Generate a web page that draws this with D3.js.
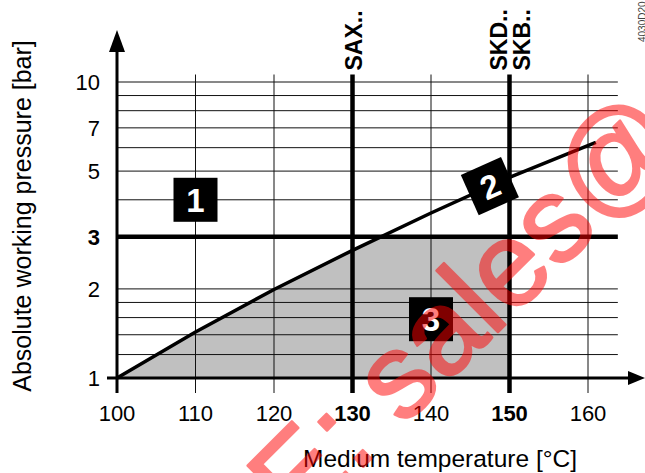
<!DOCTYPE html>
<html>
<head>
<meta charset="utf-8">
<script src="https://cdn.jsdelivr.net/npm/d3@7"></script>
<style>
  body { margin: 0; background: #fff; }
  svg { display: block; font-family: "Liberation Sans", Arial, sans-serif; }
</style>
</head>
<body>
<svg id="chart" width="645" height="473"></svg>
<script>
// saturation curve (temperature in °C, absolute pressure in bar)
var curveTemps = [100, 110, 120, 130, 140, 150, 161];
var curvePress = [1.0, 1.43, 1.99, 2.70, 3.61, 4.76, 6.25];

var xTicks = [100, 110, 120, 130, 140, 150, 160];
var xBold = [130, 150];
var yLabels = [1, 2, 3, 5, 7, 10];
var yGrid = [1.2, 1.4, 1.6, 1.8, 2, 4, 5, 6, 7, 8, 9, 10];
var limitPress = 3;      // thick horizontal line
var limitTemps = [130, 150];
var limitNames = [["SAX.."], ["SKD..", "SKB.."]];

// numbered boxes: [temp, pressure, label, rotation]
var boxes = [[110, 4, "1", 0], [147.5, 4.45, "2", -24], [140, 1.58, "3", 0]];

var svg = d3.select("#chart");
var x = d3.scaleLinear().domain([100, 160]).range([117, 588]);
var y = d3.scaleLog().domain([1, 10]).range([378, 82]);
var xEnd = 163.8, yTop = 10.6;

var curve = curveTemps.map(function (t, i) { return [t, curvePress[i]]; });

// grey area (under curve, below 3 bar, up to 150 °C)
svg.append("clipPath").attr("id", "area-clip")
  .append("rect")
  .attr("x", x(100)).attr("y", y(limitPress))
  .attr("width", x(150) - x(100)).attr("height", y(1) - y(limitPress));

svg.append("path")
  .datum(curve)
  .attr("clip-path", "url(#area-clip)")
  .attr("fill", "#c0c0c0")
  .attr("d", d3.area().x(function (d) { return x(d[0]); })
    .y0(y(1)).y1(function (d) { return y(d[1]); }));

// horizontal grid
svg.selectAll(".hgrid").data(yGrid).enter().append("line")
  .attr("x1", x(100)).attr("x2", x(xEnd))
  .attr("y1", function (d) { return y(d); }).attr("y2", function (d) { return y(d); })
  .attr("stroke", "#111").attr("stroke-width", 1);

// vertical grid + ticks
svg.selectAll(".vgrid").data(xTicks.filter(function (d) { return d > 100 && xBold.indexOf(d) < 0; }))
  .enter().append("line")
  .attr("x1", function (d) { return x(d); }).attr("x2", function (d) { return x(d); })
  .attr("y1", y(yTop)).attr("y2", y(1) + 15)
  .attr("stroke", "#111").attr("stroke-width", 1);

// thick limits
svg.append("line")
  .attr("x1", x(100)).attr("x2", x(xEnd))
  .attr("y1", y(limitPress)).attr("y2", y(limitPress))
  .attr("stroke", "#000").attr("stroke-width", 4.5);

svg.selectAll(".vlim").data(limitTemps).enter().append("line")
  .attr("x1", function (d) { return x(d); }).attr("x2", function (d) { return x(d); })
  .attr("y1", y(yTop)).attr("y2", y(1) + 15)
  .attr("stroke", "#000").attr("stroke-width", 4.5);

limitTemps.forEach(function (t, i) {
  var names = limitNames[i];
  names.forEach(function (n, j) {
    var cx = x(t) + (j - (names.length - 1) / 2) * 23 + 9;
    svg.append("text")
      .attr("transform", "translate(" + cx + "," + (y(yTop) - 4) + ") rotate(-90)")
      .attr("font-size", 23).attr("font-weight", "bold")
      .text(n);
  });
});

// axes
svg.append("line")
  .attr("x1", x(100)).attr("x2", x(100))
  .attr("y1", y(1) + 15).attr("y2", 50)
  .attr("stroke", "#000").attr("stroke-width", 3);
svg.append("path").attr("d", "M" + x(100) + ",30 L" + (x(100) - 8) + ",52 L" + (x(100) + 8) + ",52 Z");

svg.append("line")
  .attr("x1", x(100) - 10).attr("x2", 630)
  .attr("y1", y(1)).attr("y2", y(1))
  .attr("stroke", "#000").attr("stroke-width", 3);
svg.append("path").attr("d", "M645," + y(1) + " L628," + (y(1) - 7) + " L628," + (y(1) + 7) + " Z");

// curve
svg.append("path")
  .datum(curve)
  .attr("fill", "none").attr("stroke", "#000").attr("stroke-width", 3.5)
  .attr("d", d3.line().x(function (d) { return x(d[0]); }).y(function (d) { return y(d[1]); }));

// tick labels
svg.selectAll(".xl").data(xTicks).enter().append("text")
  .attr("x", function (d) { return x(d); }).attr("y", 421)
  .attr("text-anchor", "middle").attr("font-size", 22)
  .attr("font-weight", function (d) { return xBold.indexOf(d) >= 0 ? "bold" : "normal"; })
  .text(function (d) { return d; });

svg.selectAll(".yl").data(yLabels).enter().append("text")
  .attr("x", 100).attr("y", function (d) { return y(d) + 8; })
  .attr("text-anchor", "end").attr("font-size", 22)
  .attr("font-weight", function (d) { return d === limitPress ? "bold" : "normal"; })
  .text(function (d) { return d; });

// axis titles
svg.append("text")
  .attr("x", 577).attr("y", 467).attr("text-anchor", "end")
  .attr("font-size", 24.5).text("Medium temperature [°C]");
svg.append("text")
  .attr("transform", "translate(31,216) rotate(-90)")
  .attr("text-anchor", "middle").attr("font-size", 25)
  .text("Absolute working pressure [bar]");

// numbered boxes
var b = svg.selectAll(".box").data(boxes).enter().append("g")
  .attr("transform", function (d) {
    return "translate(" + x(d[0]) + "," + y(d[1]) + ") rotate(" + d[3] + ")";
  });
b.append("rect").attr("x", -22).attr("y", -22).attr("width", 44).attr("height", 44).attr("fill", "#000");
b.append("text").attr("y", 12).attr("text-anchor", "middle")
  .attr("font-size", 33).attr("font-weight", "bold").attr("fill", "#fff")
  .text(function (d) { return d[2]; });

// drawing code
svg.append("text")
  .attr("transform", "translate(646,42) rotate(-90)")
  .attr("font-size", 10).attr("fill", "#444").text("4030D20");

// watermark
svg.append("g").attr("opacity", 0.5)
  .append("text")
  .attr("transform", "translate(299,531) rotate(-45)")
  .attr("font-size", 120).attr("fill", "#ff0000")
  .attr("stroke", "#ff0000").attr("stroke-width", 2.5).attr("stroke-linejoin", "round")
  .text("E: sales@");
</script>
</body>
</html>
